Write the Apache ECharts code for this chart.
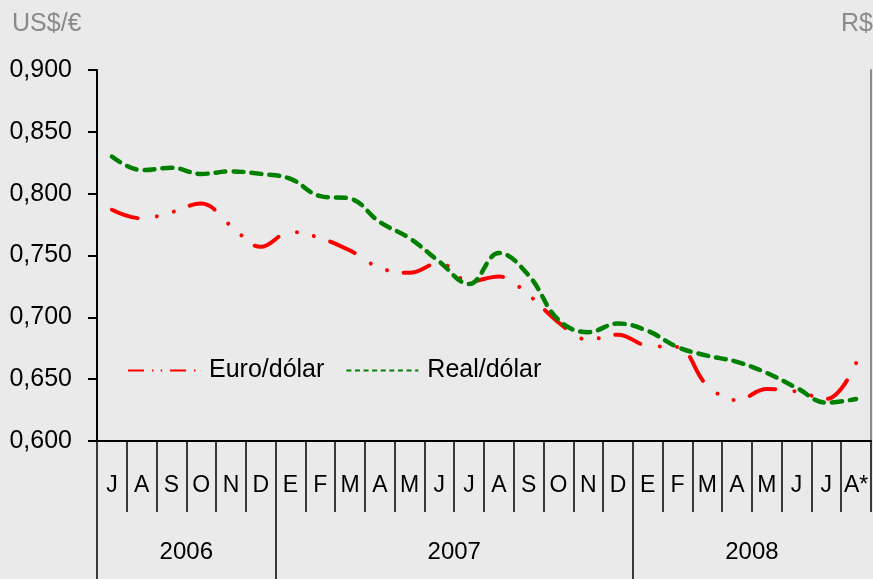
<!DOCTYPE html>
<html>
<head>
<meta charset="utf-8">
<script src="https://cdn.jsdelivr.net/npm/echarts@6/dist/echarts.min.js"></script>
<style>
html,body{margin:0;padding:0;background:#EAEAEA;}
#chart{width:873px;height:579px;}
</style>
</head>
<body>
<div id="chart"></div>
<script>
const months = ['J','A','S','O','N','D','E','F','M','A','M','J','J','A','S','O','N','D','E','F','M','A','M','J','J','A*'];
const years = ['2006','2007','2008'];
const yearLabelPos = [3, 12, 22];
const yearBounds = [0, 6, 18];
const euroDolar = [0.787,0.780,0.785,0.792,0.774,0.757,0.769,0.764,0.754,0.740,0.736,0.744,0.729,0.733,0.718,0.696,0.682,0.686,0.677,0.676,0.645,0.633,0.642,0.640,0.634,0.663];
const realDolar = [0.830,0.819,0.821,0.816,0.818,0.816,0.812,0.798,0.796,0.777,0.764,0.745,0.727,0.752,0.734,0.698,0.688,0.695,0.689,0.676,0.669,0.664,0.655,0.643,0.631,0.634];

const FONT = 'Liberation Sans, Arial, sans-serif';
const chart = echarts.init(document.getElementById('chart'));
chart.setOption({
  backgroundColor: '#EAEAEA',
  animation: false,
  title: [
    {text: 'US$/€', left: 7, top: 7, textStyle: {fontFamily: FONT, fontSize: 25, fontWeight: 'normal', color: '#8A8A8A'}},
    {text: 'R$/US$', left: 836, top: 7, textStyle: {fontFamily: FONT, fontSize: 25, fontWeight: 'normal', color: '#8A8A8A'}}
  ],
  legend: {
    left: 122, top: 353,
    itemWidth: 72, itemHeight: 14, itemGap: 21,
    itemStyle: {opacity: 0, color: 'transparent', borderWidth: 0},
    textStyle: {fontFamily: FONT, fontSize: 25, color: '#000', padding: [0,0,0,4]},
    data: [
      {name: 'Euro/dólar', itemStyle: {opacity: 0}, lineStyle: {width: 2, type: [16, 8, 1.5, 7.2, 1.5, 7.8], cap: 'butt'}},
      {name: 'Real/dólar', itemStyle: {opacity: 0}, lineStyle: {width: 2, type: [5, 3.6], cap: 'butt'}}
    ]
  },
  grid: {left: 97, right: 2, top: 70, bottom: 138},
  xAxis: [
    {
      type: 'category', data: months, boundaryGap: true, position: 'bottom',
      axisLine: {show: true, lineStyle: {color: '#000', width: 2}},
      axisTick: {show: true, interval: 0, length: 71, lineStyle: {color: '#000', width: 1.5}},
      axisLabel: {interval: 0, margin: 33, fontFamily: FONT, fontSize: 23, color: '#000'}
    },
    {
      type: 'value', min: 0, max: 26, position: 'bottom',
      axisLine: {show: false},
      splitLine: {show: false},
      axisTick: {show: true, customValues: yearBounds, length: 140, lineStyle: {color: '#000', width: 1.5}},
      axisLabel: {customValues: yearLabelPos, margin: 99, fontFamily: FONT, fontSize: 24, color: '#000',
        formatter: function (v) { const i = yearLabelPos.indexOf(v); return i >= 0 ? years[i] : ''; }}
    }
  ],
  yAxis: [
    {
      type: 'value', min: 0.6, max: 0.9, interval: 0.05,
      axisLine: {show: true, lineStyle: {color: '#000', width: 2}},
      axisTick: {show: true, length: 9, lineStyle: {color: '#000', width: 2}},
      splitLine: {show: false},
      axisLabel: {margin: 25, fontFamily: FONT, fontSize: 25, color: '#000',
        formatter: function (v) { return v.toFixed(3).replace('.', ','); }}
    },
    {
      type: 'value', min: 0, max: 1, position: 'right',
      axisLine: {show: true, lineStyle: {color: '#8A8A8A', width: 2}},
      axisTick: {show: false}, axisLabel: {show: false}, splitLine: {show: false}
    }
  ],
  series: [
    {
      name: 'Euro/dólar', type: 'line', data: euroDolar, xAxisIndex: 0, yAxisIndex: 0,
      smooth: 0.4, symbol: 'none', color: '#FF0000',
      lineStyle: {color: '#FF0000', width: 4, type: [27, 19.5, 0.01, 17.5, 0.01, 17], cap: 'round'}
    },
    {
      name: 'Real/dólar', type: 'line', data: realDolar, xAxisIndex: 0, yAxisIndex: 0,
      smooth: 0.4, symbol: 'none', color: '#008000',
      lineStyle: {color: '#008000', width: 4.5, type: [10, 8], cap: 'round'}
    }
  ]
});
</script>
</body>
</html>
